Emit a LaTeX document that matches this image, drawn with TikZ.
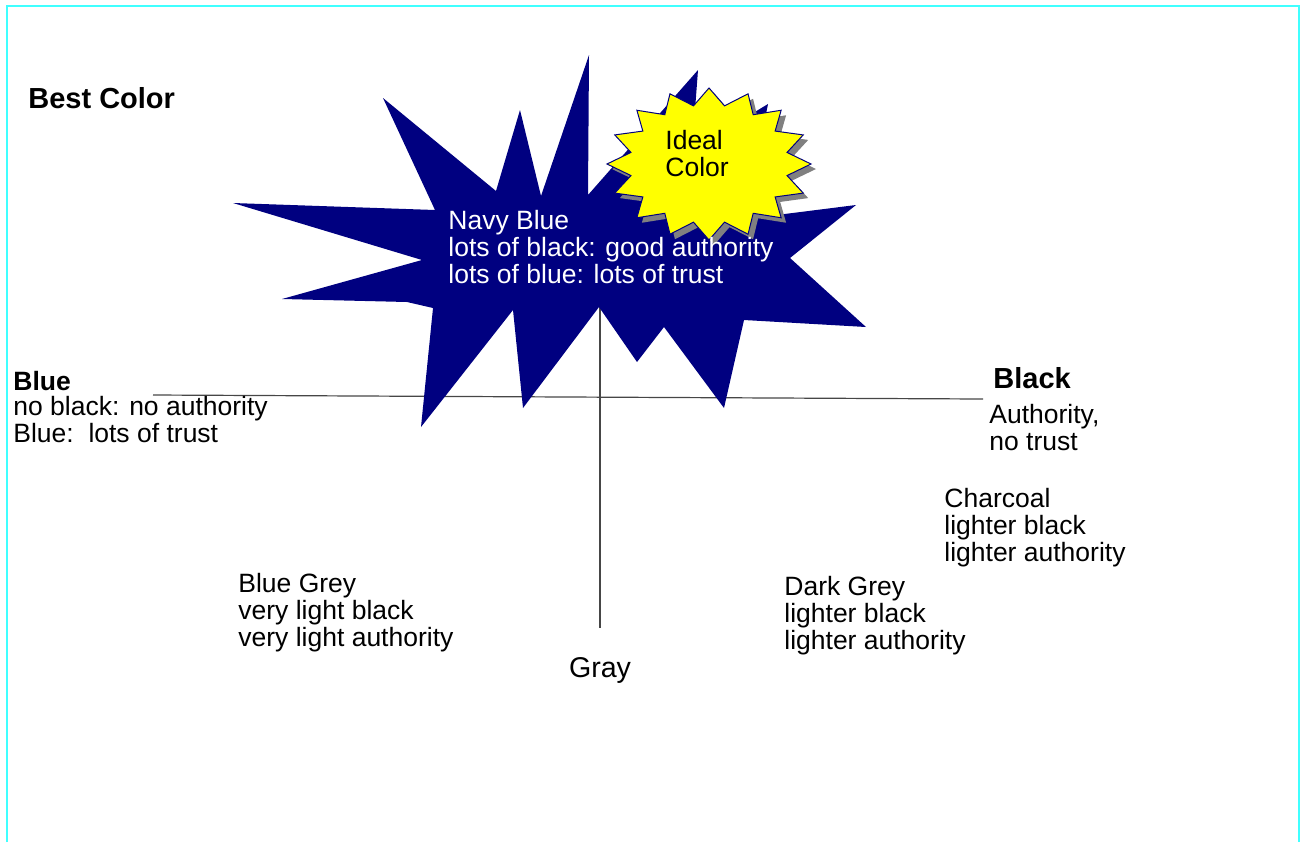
\documentclass[tikz,border=0pt]{standalone}
\usepackage{fontspec}
\setmainfont{Liberation Sans}

\definecolor{navyblue}{RGB}{0,0,128}
\definecolor{idealyellow}{RGB}{255,255,0}
\definecolor{shadowgray}{RGB}{128,128,128}
\definecolor{framecyan}{RGB}{64,255,255}
\definecolor{axisgray}{RGB}{70,70,70}

\begin{document}
\begin{tikzpicture}[%
        x = 0.5pt, y = -0.5pt,
        plaintext/.style = {anchor=base west, inner sep=0pt, align=left,
            font=\fontsize{13.25}{13.5}\selectfont},
        boldtext/.style = {anchor=base west, inner sep=0pt,
            font=\fontsize{14.5}{15}\selectfont\bfseries}
    ]
      \useasboundingbox (0,0) rectangle (1301,842);
      \draw[framecyan, line width=0.75pt] (7,842) -- (7,6) -- (1299,6) -- (1299,842);
      % axes
      \coordinate (blueend) at (153,395);
      \coordinate (blackend) at (983,399);
      \coordinate (navymid) at (600,305);
      \coordinate (grayend) at (600,628);
      \draw[axisgray, line width=0.6pt] (blueend) -- (blackend);
      \draw[axisgray, line width=0.6pt] (navymid) -- (grayend);
      % navy burst
      \fill[navyblue] (233,203) -- (435,210) -- (383,98) -- (496,191) -- (520,110)
        -- (541,196) -- (589,55) -- (588,195) -- (698,70) -- (692,150) -- (768,104)
        -- (745,219) -- (856,205) -- (790,258) -- (866,327) -- (744,320) -- (724,408)
        -- (664,327) -- (637,362) -- (599,307) -- (523,408) -- (513,310) -- (421,427)
        -- (433,308) -- (407,302) -- (282,299) -- (422,260) -- cycle;
      % ideal burst and its shadow
      \fill[shadowgray, shift={(5,5)}] plot[domain=0:31, samples=32]
        ({709+102*(1-0.22*mod(\x,2))*cos(90+11.25*\x)},
         {164-76*(1-0.22*mod(\x,2))*sin(90+11.25*\x)}) -- cycle;
      \filldraw[fill=idealyellow, draw=navyblue, line width=0.5pt] plot[domain=0:31, samples=32]
        ({709+102*(1-0.22*mod(\x,2))*cos(90+11.25*\x)},
         {164-76*(1-0.22*mod(\x,2))*sin(90+11.25*\x)}) -- cycle;
      % multi-line nodes sit on the baseline of their last line
      \node[plaintext] (ideal) at (665,176) {Ideal\\Color};
      \node[plaintext, text=white] (navy) at (448,283)
        {Navy Blue\\lots of black: good authority\\lots of blue: lots of trust};
      % labels
      \node[boldtext] (best) at (28,108) {Best Color};
      \node[boldtext, font=\fontsize{13.25}{13.5}\selectfont\bfseries] (blue) at (13,390) {Blue};
      \node[plaintext] (bluetxt) at (13,442) {no black: no authority\\Blue:\ \ lots of trust};
      \node[boldtext] (black) at (993,388) {Black};
      \node[plaintext] (blacktxt) at (989,450) {Authority,\\no trust};
      \node[plaintext] (charcoal) at (944,561) {Charcoal\\lighter black\\lighter authority};
      \node[plaintext] (bluegrey) at (238,646) {Blue Grey\\very light black\\very light authority};
      \node[plaintext] (darkgrey) at (784,649) {Dark Grey\\lighter black\\lighter authority};
      \node[plaintext, anchor=base, font=\fontsize{14.3}{15}\selectfont] (gray) at (600,677) {Gray};
\end{tikzpicture}
\end{document}
